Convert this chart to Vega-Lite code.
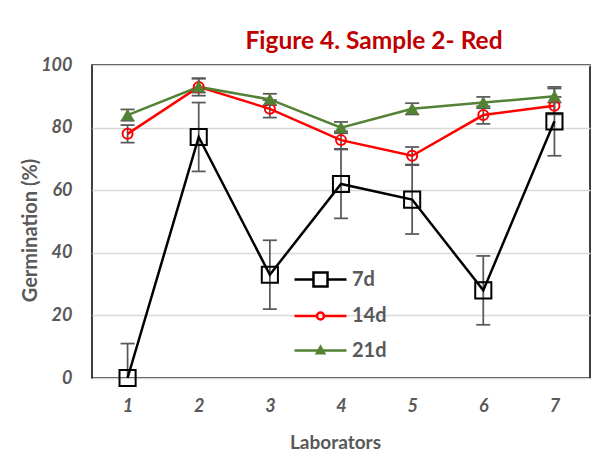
{
  "$schema": "https://vega.github.io/schema/vega-lite/v6.json",
  "width": 498,
  "height": 313,
  "autosize": {"type": "none"},
  "padding": {"left": 92, "top": 65, "right": 4, "bottom": 81},
  "background": "white",
  "title": {
    "text": "Figure 4. Sample 2- Red",
    "color": "#C00000",
    "font": "Lato",
    "fontWeight": "bold",
    "fontSize": 24.5,
    "anchor": "middle",
    "frame": "group",
    "dx": 33,
    "baseline": "alphabetic",
    "offset": -17
  },
  "config": {
    "view": {"stroke": "#000000", "strokeWidth": 1.5},
    "legend": {
      "labelFont": "Lato",
      "labelFontWeight": "bold",
      "labelFontSize": 20,
      "labelColor": "#595959",
      "symbolStrokeWidth": 2.5,
      "symbolSize": 676,
      "labelOffset": 17
    }
  },
  "data": {
    "values": [
      {"lab": "1", "series": "7d", "val": 0, "lo": -11, "hi": 11},
      {"lab": "2", "series": "7d", "val": 77, "lo": 66, "hi": 88},
      {"lab": "3", "series": "7d", "val": 33, "lo": 22, "hi": 44},
      {"lab": "4", "series": "7d", "val": 62, "lo": 51, "hi": 73},
      {"lab": "5", "series": "7d", "val": 57, "lo": 46, "hi": 68},
      {"lab": "6", "series": "7d", "val": 28, "lo": 17, "hi": 39},
      {"lab": "7", "series": "7d", "val": 82, "lo": 71, "hi": 93},
      {"lab": "1", "series": "14d", "val": 78, "lo": 75.2, "hi": 80.8},
      {"lab": "2", "series": "14d", "val": 93, "lo": 90.2, "hi": 95.8},
      {"lab": "3", "series": "14d", "val": 86, "lo": 83.2, "hi": 88.8},
      {"lab": "4", "series": "14d", "val": 76, "lo": 73.2, "hi": 78.8},
      {"lab": "5", "series": "14d", "val": 71, "lo": 68.2, "hi": 73.8},
      {"lab": "6", "series": "14d", "val": 84, "lo": 81.2, "hi": 86.8},
      {"lab": "7", "series": "14d", "val": 87, "lo": 84.2, "hi": 89.8},
      {"lab": "1", "series": "21d", "val": 84, "lo": 82.2, "hi": 85.8},
      {"lab": "2", "series": "21d", "val": 93, "lo": 91.2, "hi": 95.6},
      {"lab": "3", "series": "21d", "val": 89, "lo": 87.2, "hi": 90.8},
      {"lab": "4", "series": "21d", "val": 80, "lo": 78.2, "hi": 81.8},
      {"lab": "5", "series": "21d", "val": 86, "lo": 84.2, "hi": 87.8},
      {"lab": "6", "series": "21d", "val": 88, "lo": 86.2, "hi": 89.8},
      {"lab": "7", "series": "21d", "val": 90, "lo": 88, "hi": 92.5}
    ]
  },
  "encoding": {
    "x": {
      "field": "lab",
      "type": "ordinal",
      "sort": null,
      "scale": {"type": "point", "padding": 0.5},
      "axis": {
        "title": "Laborators",
        "titleFont": "Lato",
        "titleFontWeight": "bold",
        "titleFontSize": 19,
        "titleColor": "#595959",
        "titlePadding": 18,
        "titleX": 243,
        "labelAngle": 0,
        "labelFont": "Lato",
        "labelFontStyle": "italic",
        "labelFontWeight": "bold",
        "labelFontSize": 18,
        "labelColor": "#595959",
        "labelPadding": 19,
        "ticks": false,
        "domain": false,
        "grid": false
      }
    }
  },
  "layer": [
    {
      "mark": {"type": "rule", "color": "#595959", "strokeWidth": 1.75, "clip": true},
      "encoding": {
        "y": {
          "field": "lo",
          "type": "quantitative",
          "title": "Germination (%)",
          "scale": {"domain": [0, 100], "nice": false},
          "axis": {
            "values": [0, 20, 40, 60, 80, 100],
            "grid": true,
            "gridColor": "#d9d9d9",
            "gridWidth": 1.5,
            "domain": false,
            "ticks": false,
            "labelFont": "Lato",
            "labelFontStyle": "italic",
            "labelFontWeight": "bold",
            "labelFontSize": 18,
            "labelColor": "#595959",
            "labelPadding": 20,
            "titleFont": "Lato",
            "titleFontWeight": "bold",
            "titleFontSize": 20,
            "titleColor": "#595959",
            "titlePadding": 0,
            "titleY": 165
          }
        },
        "y2": {"field": "hi"}
      }
    },
    {
      "mark": {"type": "tick", "orient": "horizontal", "color": "#595959", "size": 14, "thickness": 1.75, "opacity": 1},
      "transform": [{"filter": "datum.lo >= 0"}],
      "encoding": {
        "y": {"field": "lo", "type": "quantitative", "title": "Germination (%)", "scale": {"domain": [0, 100], "nice": false}}
      }
    },
    {
      "mark": {"type": "tick", "orient": "horizontal", "color": "#595959", "size": 14, "thickness": 1.75, "opacity": 1},
      "encoding": {
        "y": {"field": "hi", "type": "quantitative", "title": "Germination (%)", "scale": {"domain": [0, 100], "nice": false}}
      }
    },
    {
      "mark": {"type": "line", "strokeWidth": 2.5},
      "encoding": {
        "y": {"field": "val", "type": "quantitative", "title": "Germination (%)", "scale": {"domain": [0, 100], "nice": false}},
        "color": {
          "field": "series",
          "type": "nominal",
          "sort": null,
          "scale": {"domain": ["7d", "14d", "21d"], "range": ["#000000", "#FF0000", "#548235"]},
          "legend": {
            "title": null,
            "orient": "none",
            "legendX": 214,
            "legendY": 200,
            "rowPadding": 9.5,
            "padding": 0,
            "symbolSize": 676,
            "encode": {
              "symbols": {
                "update": {
                  "shape": {"signal": "datum.value === '7d' ? 'M-2,0H-0.54M0.54,0H2M-0.54,-0.54H0.54V0.54H-0.54Z' : datum.value === '14d' ? 'M-2,0H-0.27M0.27,0H2M-0.27,0A0.27,0.27 0 1,0 0.27,0A0.27,0.27 0 1,0 -0.27,0Z' : 'M-2,0H2M-0.28,0.22L0,-0.28L0.28,0.22Z'"},
                  "fill": {"signal": "datum.value === '21d' ? '#548235' : 'transparent'"},
                  "size": {"value": 676},
                  "strokeWidth": {"value": 2.5},
                  "opacity": {"value": 1}
                }
              }
            }
          }
        }
      }
    },
    {
      "transform": [{"filter": "datum.series === '7d'"}],
      "mark": {"type": "point", "shape": "square", "size": 260, "stroke": "#000000", "fill": "transparent", "strokeWidth": 2, "opacity": 1},
      "encoding": {
        "y": {"field": "val", "type": "quantitative", "title": "Germination (%)", "scale": {"domain": [0, 100], "nice": false}}
      }
    },
    {
      "transform": [{"filter": "datum.series === '14d'"}],
      "mark": {"type": "point", "shape": "circle", "size": 100, "stroke": "#FF0000", "fill": "transparent", "strokeWidth": 2, "opacity": 1},
      "encoding": {
        "y": {"field": "val", "type": "quantitative", "title": "Germination (%)", "scale": {"domain": [0, 100], "nice": false}}
      }
    },
    {
      "transform": [{"filter": "datum.series === '21d'"}],
      "mark": {"type": "point", "shape": "triangle-up", "size": 100, "stroke": "#548235", "fill": "#548235", "strokeWidth": 2, "opacity": 1},
      "encoding": {
        "y": {"field": "val", "type": "quantitative", "title": "Germination (%)", "scale": {"domain": [0, 100], "nice": false}}
      }
    }
  ]
}
